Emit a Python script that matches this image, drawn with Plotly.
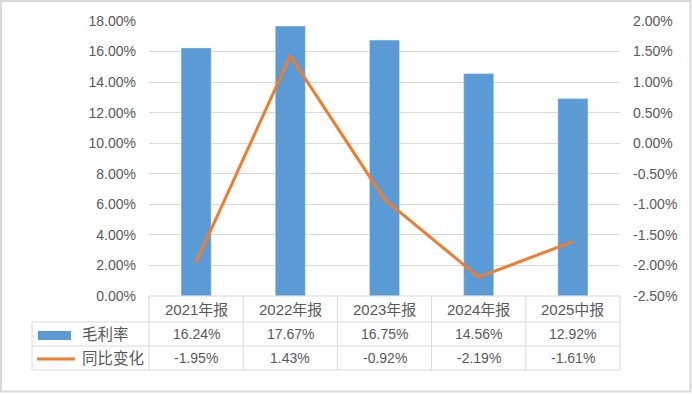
import plotly.graph_objects as go

categories = ["2021年报", "2022年报", "2023年报", "2024年报", "2025中报"]
gross_margin = [0.1624, 0.1767, 0.1675, 0.1456, 0.1292]
yoy_change = [-0.0195, 0.0143, -0.0092, -0.0219, -0.0161]
series_names = ["毛利率", "同比变化"]
left_ticks = [0.0, 0.02, 0.04, 0.06, 0.08, 0.10, 0.12, 0.14, 0.16, 0.18]
right_ticks = [-0.025, -0.02, -0.015, -0.01, -0.005, 0.0, 0.005, 0.01, 0.015, 0.02]

W, H = 692, 394
BLUE = "#5B9BD5"
ORANGE = "#ED7D31"
TXT = "#595959"
GRID = "#D9D9D9"
FONT = "Liberation Sans, Noto Sans CJK SC, sans-serif"

def px(x):
    return x / W

def py(y):
    return 1 - y / H

def pct(v):
    return f"{v*100:.2f}%"

# plot area in pixels
L, R, T, B = 149, 620, 21, 296
ROW1, ROW2, ROW3 = 322, 346, 370
TL = 32

fig = go.Figure()
fig.add_trace(go.Bar(x=categories, y=gross_margin, name=series_names[0],
                     marker_color=BLUE, width=0.32, yaxis="y"))
fig.add_trace(go.Scatter(x=categories, y=yoy_change, name=series_names[1],
                         mode="lines", line=dict(color=ORANGE, width=3), yaxis="y2"))

shapes = []
shapes.append(dict(type="rect", xref="paper", yref="paper",
                   x0=px(1), x1=px(690.5), y0=py(391.5), y1=py(1),
                   line=dict(color="#D9D9D9", width=2)))
for yy, x0 in [(B, L), (ROW1, TL), (ROW2, TL), (ROW3, TL)]:
    shapes.append(dict(type="line", xref="paper", yref="paper",
                       x0=px(x0), x1=px(R), y0=py(yy), y1=py(yy),
                       line=dict(color=GRID, width=1)))
n = len(categories)
colw = (R - L) / n
for i in range(n + 1):
    xx = L + i * colw
    shapes.append(dict(type="line", xref="paper", yref="paper",
                       x0=px(xx), x1=px(xx), y0=py(B), y1=py(ROW3),
                       line=dict(color=GRID, width=1)))
shapes.append(dict(type="line", xref="paper", yref="paper",
                   x0=px(TL), x1=px(TL), y0=py(ROW1), y1=py(ROW3),
                   line=dict(color=GRID, width=1)))
shapes.append(dict(type="rect", xref="paper", yref="paper",
                   x0=px(38), x1=px(71), y0=py(340), y1=py(331),
                   fillcolor=BLUE, line=dict(width=0)))
shapes.append(dict(type="line", xref="paper", yref="paper",
                   x0=px(37), x1=px(75), y0=py(359), y1=py(359),
                   line=dict(color=ORANGE, width=3)))

annotations = []
for i, c in enumerate(categories):
    annotations.append(dict(x=c, xref="x", y=py((B + ROW1) / 2), yref="paper",
                            text=c, showarrow=False,
                            font=dict(family=FONT, size=15, color=TXT),
                            xanchor="center", yanchor="middle"))
    annotations.append(dict(x=c, xref="x", y=py((ROW1 + ROW2) / 2), yref="paper",
                            text=pct(gross_margin[i]), showarrow=False,
                            font=dict(family=FONT, size=14, color=TXT),
                            xanchor="center", yanchor="middle"))
    annotations.append(dict(x=c, xref="x", y=py((ROW2 + ROW3) / 2), yref="paper",
                            text=pct(yoy_change[i]), showarrow=False,
                            font=dict(family=FONT, size=14, color=TXT),
                            xanchor="center", yanchor="middle"))
for j, nm in enumerate(series_names):
    yy = (ROW1 + ROW2) / 2 if j == 0 else (ROW2 + ROW3) / 2
    annotations.append(dict(x=px(80), xref="paper", y=py(yy), yref="paper",
                            text=nm, showarrow=False,
                            font=dict(family=FONT, size=15.5, color=TXT),
                            xanchor="left", yanchor="middle"))

fig.update_layout(
    width=W, height=H,
    margin=dict(l=0, r=0, t=0, b=0, autoexpand=False),
    paper_bgcolor="white", plot_bgcolor="white",
    showlegend=False,
    bargap=0.68,
    font=dict(family=FONT, size=14, color=TXT),
    xaxis=dict(domain=[px(L), px(R)], showticklabels=False, showgrid=False,
               zeroline=False, showline=False, ticks="", automargin=False),
    yaxis=dict(domain=[py(B), py(T)], range=[0, 0.18],
               tickvals=left_ticks, ticktext=[pct(v) for v in left_ticks],
               showgrid=True, gridcolor=GRID, gridwidth=1, automargin=False,
               zeroline=False, showline=False, ticks="", ticklabelstandoff=12,
               tickfont=dict(family=FONT, size=14, color=TXT)),
    yaxis2=dict(overlaying="y", side="right", range=[-0.025, 0.02],
                tickvals=right_ticks, ticktext=[pct(v) for v in right_ticks],
                showgrid=False, zeroline=False, showline=False, automargin=False,
                ticks="", ticklabelstandoff=12,
                tickfont=dict(family=FONT, size=14, color=TXT)),
    shapes=shapes,
    annotations=annotations,
)

post = (
    "document.documentElement.style.cssText='margin:0;padding:0;overflow:hidden';"
    "document.body.style.cssText='margin:0;padding:0;overflow:hidden';"
)
fig.write_html("out.html", config={"displayModeBar": False}, post_script=post)
